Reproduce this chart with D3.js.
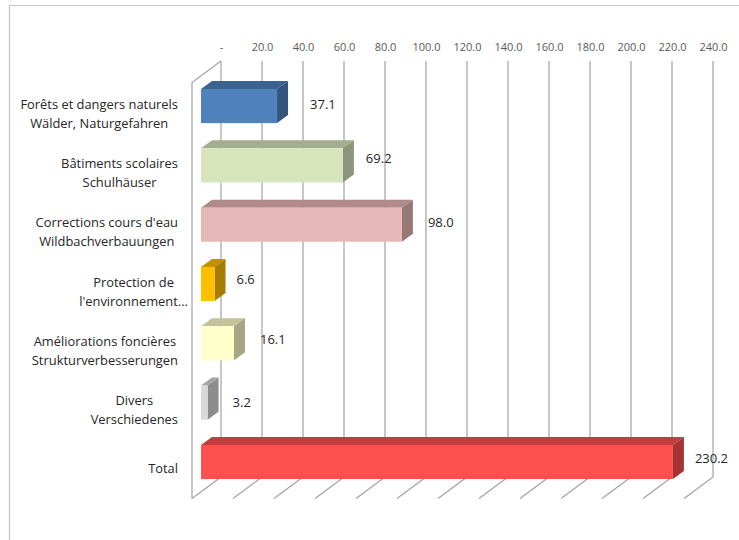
<!DOCTYPE html>
<html><head><meta charset="utf-8">
<script src="https://cdn.jsdelivr.net/npm/d3@7/dist/d3.min.js"></script>
<style>html,body{margin:0;padding:0;background:#fff}svg{display:block}text{font-family:"Open Sans","Noto Sans",sans-serif}</style>
</head><body><svg id="c" width="739" height="540"></svg>
<script>
const categories=["Forêts et dangers naturels|Wälder, Naturgefahren","Bâtiments scolaires|Schulhäuser","Corrections cours d'eau|Wildbachverbauungen","Protection de|l'environnement...","Améliorations foncières|Strukturverbesserungen","Divers|Verschiedenes","Total"];
const values=[37.1,69.2,98.0,6.6,16.1,3.2,230.2];
const frontColors=["#4f81bd","#d7e4bc","#e6b8b7","#ffc000","#ffffcc","#d9d9d9","#ff5050"];
const tickValues=[0,20,40,60,80,100,120,140,160,180,200,220,240];
const labelGaps=[33,23,26,22,26,25,22];
const labelLifts=[-1,-6,-2,-4,-3,0,-3];
const labelRight=[178,178,178,188,178,178,178];

const svg=d3.select("#c");
const W=739,H=540;
const x=d3.scaleLinear().domain([0,240]).range([221,713]);
const y=d3.scaleBand().domain(categories).range([89,479]).paddingInner(0.425).paddingOuter(0);
const wallTop=61,wallBottom=477,depthX=-29,depthY=21.5,barShift=-20,barDX=11,barDY=-8;
const gridCol="#a2a2a2";

// outer frame
svg.append("path").attr("d",`M9.5,${H}V5.5H${W}`).attr("fill","none").attr("stroke","#c6c6c6").attr("stroke-width",1.2);

// axis
const axis=d3.axisTop(x).tickValues(tickValues).tickSize(0).tickPadding(0).tickFormat(d=>d===0?"-":d3.format(".1f")(d));
const ga=svg.append("g").attr("transform","translate(0,51)").call(axis);
ga.select(".domain").remove();
ga.selectAll("text").attr("font-size",11).attr("fill","#595959").style("font-family",'"Open Sans"');

// walls
const grid=svg.append("g").attr("fill","none").attr("stroke",gridCol).attr("stroke-width",1.2);
grid.selectAll("line.v").data(tickValues).join("line").attr("class","v")
  .attr("x1",d=>x(d)).attr("x2",d=>x(d)).attr("y1",wallTop).attr("y2",wallBottom);
grid.selectAll("line.f").data(tickValues).join("line").attr("class","f")
  .attr("x1",d=>x(d)).attr("x2",d=>x(d)+depthX).attr("y1",wallBottom).attr("y2",wallBottom+depthY);
grid.append("path").attr("d",`M${x(0)},${wallTop}L${x(0)+depthX},${wallTop+depthY}V${wallBottom+depthY}`);

// bars
const bars=svg.append("g").selectAll("g").data(categories).join("g");
const shade=(c,k)=>{const r=d3.rgb(c);return d3.rgb(r.r*k,r.g*k,r.b*k).formatHex();};
bars.append("path").attr("fill",(d,i)=>shade(frontColors[i],0.76)).attr("d",(d,i)=>{
  const a=x(0)+barShift,b=x(values[i])+barShift,t=y(d);
  return `M${a},${t}L${a+barDX},${t+barDY}H${b+barDX}L${b},${t}Z`;});
bars.append("path").attr("fill",(d,i)=>shade(frontColors[i],0.65)).attr("d",(d,i)=>{
  const b=x(values[i])+barShift,t=y(d),h=y.bandwidth();
  return `M${b},${t}L${b+barDX},${t+barDY}V${t+barDY+h}L${b},${t+h}Z`;});
bars.append("rect").attr("fill",(d,i)=>frontColors[i])
  .attr("x",x(0)+barShift).attr("y",d=>y(d)).attr("height",y.bandwidth())
  .attr("width",(d,i)=>x(values[i])-x(0));

// value labels
svg.append("g").selectAll("text").data(values).join("text")
  .attr("x",(d,i)=>x(d)+barShift+labelGaps[i]).attr("y",(d,i)=>y(categories[i])+y.bandwidth()/2+labelLifts[i]+4)
  .attr("font-size",13).attr("fill","#262626").text(d=>d3.format(".1f")(d));

// category labels
categories.forEach((c,i)=>{
  const lines=c.split("|");
  const g=svg.append("g");
  const cy=y(c)+y.bandwidth()/2+(lines.length===1?7:8);
  const ts=g.selectAll("text").data(lines).join("text").attr("font-size",12.9).attr("fill","#262626")
    .attr("text-anchor","middle").text(d=>d)
    .attr("y",(d,j)=>cy+(j-(lines.length-1)/2)*19+4);
  const w=d3.max(ts.nodes(),n=>n.getComputedTextLength());
  ts.attr("x",labelRight[i]-w/2);
});
</script></body></html>
